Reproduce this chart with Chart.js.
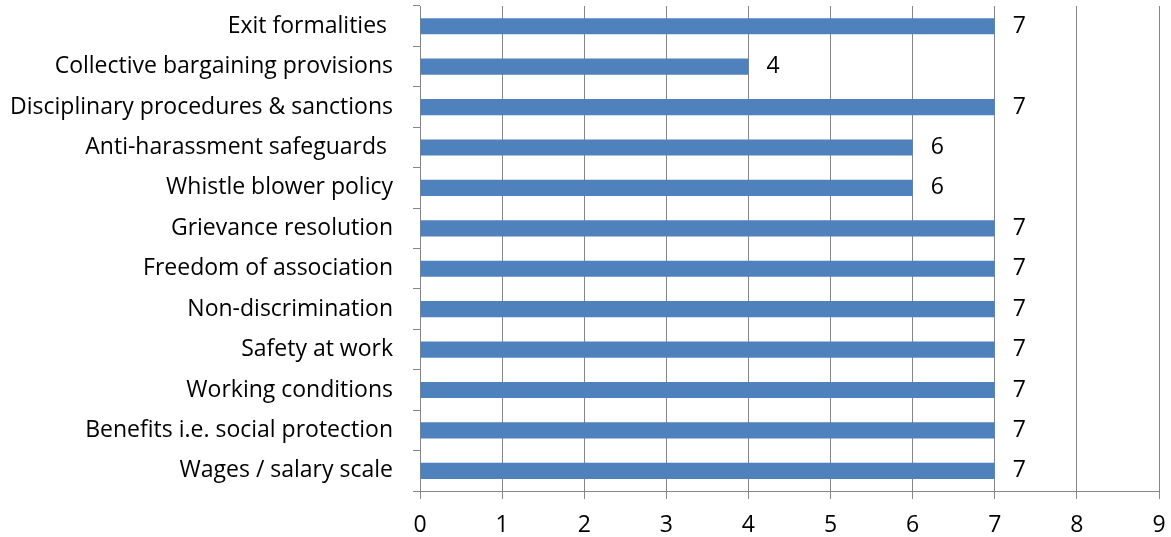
<!DOCTYPE html>
<html>
<head>
<meta charset="utf-8">
<script src="https://cdn.jsdelivr.net/npm/chart.js@4"></script>
<style>
  html, body { margin: 0; padding: 0; background: #fff; }
  #wrap { width: 1171px; height: 537px; }
</style>
</head>
<body>
<div id="wrap"><canvas id="myChart" width="1171" height="537"></canvas></div>
<script>
// categories top to bottom, as shown in the picture
const categories = [
    "Exit formalities ",
    "Collective bargaining provisions",
    "Disciplinary procedures & sanctions",
    "Anti-harassment safeguards ",
    "Whistle blower policy",
    "Grievance resolution",
    "Freedom of association",
    "Non-discrimination",
    "Safety at work",
    "Working conditions",
    "Benefits i.e. social protection",
    "Wages / salary scale"
]
const counts = [7, 4, 7, 6, 6, 7, 7, 7, 7, 7, 7, 7]
const xTicks = [0, 1, 2, 3, 4, 5, 6, 7, 8, 9]

const FONT = "'Open Sans'"
const gridGray = "#868686"

// write the value just right of each bar
const valueLabels = {
    id: "valueLabels",
    afterDatasetsDraw(chart) {
        const ctx = chart.ctx
        const meta = chart.getDatasetMeta(0)
        ctx.save()
        ctx.font = `23px ${FONT}`
        ctx.fillStyle = "#000"
        ctx.textBaseline = "middle"
        ctx.textAlign = "left"
        meta.data.forEach((bar, i) => {
            ctx.fillText(String(counts[i]), bar.x + 18, bar.y)
        })
        ctx.restore()
    }
}

const ctx = document.getElementById("myChart")
new Chart(ctx, {
    type: "bar",
    data: {
        labels: categories,
        datasets: [{
            data: counts,
            backgroundColor: "#4f81bd",
            borderWidth: 0,
            categoryPercentage: 1,
            barPercentage: 0.4,
        }]
    },
    options: {
        indexAxis: "y",
        responsive: false,
        animation: false,
        layout: { padding: { top: 6, right: 12, left: 0, bottom: 0 } },
        scales: {
            x: {
                min: 0,
                max: 9,
                afterBuildTicks: scale => { scale.ticks = xTicks.map(v => ({ value: v })) },
                afterFit: scale => {
                    scale.height = 46
                    scale.paddingRight = 0
                    scale.paddingLeft = 0
                },
                grid: { color: gridGray, lineWidth: 1, tickLength: 8, drawTicks: true },
                border: { color: gridGray },
                ticks: { color: "#000", font: { family: FONT, size: 23 }, padding: 13 }
            },
            y: {
                afterFit: scale => {
                    scale.width = 420
                    scale.paddingTop = 0
                    scale.paddingBottom = 0
                },
                grid: { drawOnChartArea: false, drawTicks: true, tickLength: 7, offset: true, color: gridGray },
                border: { color: gridGray },
                ticks: { color: "#000", font: { family: FONT, size: 23 }, padding: 20, autoSkip: false }
            }
        },
        plugins: {
            legend: { display: false },
            tooltip: { enabled: false }
        }
    },
    plugins: [valueLabels]
})
</script>
</body>
</html>
